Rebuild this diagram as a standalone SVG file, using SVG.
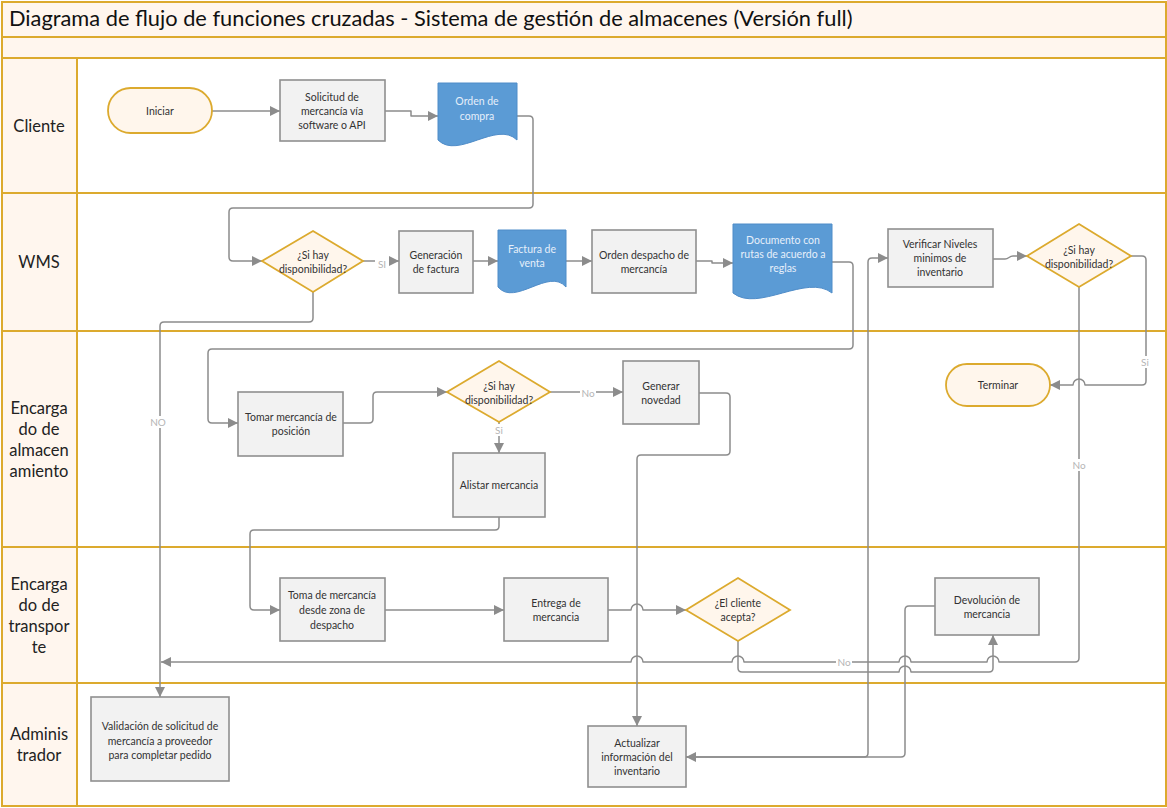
<svg xmlns="http://www.w3.org/2000/svg" width="1167" height="808" viewBox="0 0 1167 808">
<style>
.lane{fill:#fff;stroke:#dcaa2e;stroke-width:2}
.hdr{fill:#fff6ee;stroke:#dcaa2e;stroke-width:2}
.proc{fill:#f2f2f2;stroke:#8f8f8f;stroke-width:1.6}
.dec{fill:#fff6ec;stroke:#dcaa2e;stroke-width:1.8}
.term{fill:#fff6ec;stroke:#dcaa2e;stroke-width:1.8}
.doc{fill:#5b9bd5;stroke:#4f8cc8;stroke-width:1}
.t{font-family:Lato,"Open Sans",sans-serif;font-size:10.5px;fill:#333;text-anchor:middle}
.td{font-family:Lato,"Open Sans",sans-serif;font-size:10.5px;fill:#e6effa;text-anchor:middle}
.ln{font-family:Lato,"Open Sans",sans-serif;font-size:16.5px;fill:#222;text-anchor:middle}
.lbl{font-family:Lato,"Open Sans",sans-serif;font-size:10px;fill:#b5b5b5;text-anchor:middle}
.c{fill:none;stroke:#8c8c8c;stroke-width:1.5;stroke-linejoin:round}
.bg{fill:#fff}
</style>
<defs>
<marker id="arr" viewBox="0 0 10 10" refX="10" refY="5" markerWidth="11" markerHeight="10" markerUnits="userSpaceOnUse" orient="auto">
<path d="M0,0 L10,5 L0,10 z" fill="#8c8c8c"/>
</marker>
</defs>
<g id="frame">
<rect class="hdr" x="2" y="2" width="1164" height="35"/>
<rect class="hdr" x="2" y="37" width="1164" height="21"/>
<text x="9" y="26" font-family="Lato,'Open Sans',sans-serif" font-size="21.8" fill="#111">Diagrama de flujo de funciones cruzadas - Sistema de gestión de almacenes (Versión full)</text>
</g>
<g id="lane-cliente">
<rect class="lane" x="77" y="58" width="1089" height="135"/>
<rect class="hdr" x="2" y="58" width="75" height="135"/>
<text class="ln" x="39" y="132">Cliente</text>
</g>
<g id="lane-wms">
<rect class="lane" x="77" y="193" width="1089" height="138"/>
<rect class="hdr" x="2" y="193" width="75" height="138"/>
<text class="ln" x="39" y="268">WMS</text>
</g>
<g id="lane-almacen">
<rect class="lane" x="77" y="331" width="1089" height="216"/>
<rect class="hdr" x="2" y="331" width="75" height="216"/>
<text class="ln" x="39" y="414">Encarga</text>
<text class="ln" x="39" y="435">do de</text>
<text class="ln" x="39" y="456">almacen</text>
<text class="ln" x="39" y="477">amiento</text>
</g>
<g id="lane-transporte">
<rect class="lane" x="77" y="547" width="1089" height="136"/>
<rect class="hdr" x="2" y="547" width="75" height="136"/>
<text class="ln" x="39" y="590">Encarga</text>
<text class="ln" x="39" y="611">do de</text>
<text class="ln" x="39" y="632">transpor</text>
<text class="ln" x="39" y="653">te</text>
</g>
<g id="lane-admin">
<rect class="lane" x="77" y="683" width="1089" height="123"/>
<rect class="hdr" x="2" y="683" width="75" height="123"/>
<text class="ln" x="39" y="740">Adminis</text>
<text class="ln" x="39" y="761">trador</text>
</g>

<g id="connectors">
<path class="c" d="M212,111 H280" marker-end="url(#arr)"/>
<path class="c" d="M385,111 H411 V116 H438" marker-end="url(#arr)"/>
<path class="c" d="M517,116 H529 Q533,116 533,120 V204 Q533,208 529,208 H233 Q229,208 229,212 V257 Q229,261 233,261 H262" marker-end="url(#arr)"/>
<path class="c" d="M363,261 H399" marker-end="url(#arr)"/>
<path class="c" d="M473,261 H498" marker-end="url(#arr)"/>
<path class="c" d="M566,261 H592" marker-end="url(#arr)"/>
<path class="c" d="M696,261 H712 V263 H733" marker-end="url(#arr)"/>
<path class="c" d="M832,262 H849 Q853,262 853,266 V345 Q853,349 849,349 H212 Q208,349 208,353 V419 Q208,423 212,423 H238" marker-end="url(#arr)"/>
<path class="c" d="M313,292 V318 Q313,322 309,322 H164 Q160,322 160,326 V697" marker-end="url(#arr)"/>
<path class="c" d="M343,423 H369 Q373,423 373,419 V396 Q373,392 377,392 H447" marker-end="url(#arr)"/>
<path class="c" d="M550,392 H623" marker-end="url(#arr)"/>
<path class="c" d="M499,422 V453" marker-end="url(#arr)"/>
<path class="c" d="M699,393 H726 Q730,393 730,397 V451 Q730,455 726,455 H641 Q637,455 637,459 V726" marker-end="url(#arr)"/>
<path class="c" d="M499,517 V526 Q499,530 495,530 H254 Q250,530 250,534 V606 Q250,610 254,610 H280" marker-end="url(#arr)"/>
<path class="c" d="M385,610 H504" marker-end="url(#arr)"/>
<path class="c" d="M608,610 H631 a6,6 0 0 1 12,0 H686" marker-end="url(#arr)"/>
<path class="c" d="M738,641 V668 Q738,672 742,672 H899 a6,6 0 0 1 12,0 H989 Q993,672 993,668 V635" marker-end="url(#arr)"/>
<path class="c" d="M1079,287 V658 Q1079,662 1075,662 H999 a6,6 0 0 0 -12,0 H911 a6,6 0 0 0 -12,0 H744 a6,6 0 0 0 -12,0 H643 a6,6 0 0 0 -12,0 H161" marker-end="url(#arr)"/>
<path class="c" d="M935,606 H909 Q905,606 905,610 V753 Q905,757 901,757 H686" marker-end="url(#arr)"/>
<path class="c" d="M686,757 H864 Q868,757 868,753 V262 Q868,258 872,258 H888" marker-end="url(#arr)"/>
<path class="c" d="M993,259 H1005 C1009,259 1009,256 1013,256 H1027" marker-end="url(#arr)"/>
<path class="c" d="M1131,256 H1142 Q1146,256 1146,260 V381 Q1146,385 1142,385 H1085 a6,6 0 0 0 -12,0 H1050" marker-end="url(#arr)"/>
<rect class="bg" x="375" y="257" width="14" height="12"/>
<text class="lbl" x="382" y="268">SI</text>
<rect class="bg" x="150" y="416" width="17" height="12"/>
<text class="lbl" x="158" y="426">NO</text>
<rect class="bg" x="580" y="387" width="16" height="12"/>
<text class="lbl" x="588" y="397">No</text>
<rect class="bg" x="493" y="424" width="12" height="12"/>
<text class="lbl" x="499" y="434">Si</text>
<rect class="bg" x="1138" y="356" width="14" height="12"/>
<text class="lbl" x="1145" y="366">Si</text>
<rect class="bg" x="1071" y="459" width="16" height="12"/>
<text class="lbl" x="1079" y="469">No</text>
<rect class="bg" x="836" y="656" width="16" height="12"/>
<text class="lbl" x="844" y="666">No</text>
</g>

<g id="n-iniciar">
<rect class="term" x="108" y="88" width="104" height="45" rx="22.5"/>
<text class="t" x="160" y="115">Iniciar</text>
</g>
<g id="n-solicitud">
<rect class="proc" x="280" y="80" width="105" height="61"/>
<text class="t" x="332" y="101">Solicitud de</text>
<text class="t" x="332" y="115">mercancía vía</text>
<text class="t" x="332" y="129">software o API</text>
</g>
<g id="n-orden-compra">
<path class="doc" d="M438,83 H517 V140 C497,120 458,160 438,140 Z"/>
<text class="td" x="477" y="105">Orden de</text>
<text class="td" x="477" y="120">compra</text>
</g>
<g id="n-disp1">
<polygon class="dec" points="313,231 363,261 313,292 262,261"/>
<text class="t" x="313" y="259">¿Si hay</text>
<text class="t" x="313" y="273">disponibilidad?</text>
</g>
<g id="n-generacion">
<rect class="proc" x="399" y="231" width="74" height="62"/>
<text class="t" x="436" y="259">Generación</text>
<text class="t" x="436" y="273">de factura</text>
</g>
<g id="n-factura">
<path class="doc" d="M498,230 H566 V287 C549,267 515,307 498,287 Z"/>
<text class="td" x="532" y="253">Factura de</text>
<text class="td" x="532" y="267">venta</text>
</g>
<g id="n-orden-despacho">
<rect class="proc" x="592" y="230" width="104" height="63"/>
<text class="t" x="644" y="259">Orden despacho de</text>
<text class="t" x="644" y="273">mercancía</text>
</g>
<g id="n-documento">
<path class="doc" d="M733,224 H832 V293 C807,273 758,313 733,293 Z"/>
<text class="td" x="783" y="244">Documento con</text>
<text class="td" x="783" y="258">rutas de acuerdo a</text>
<text class="td" x="783" y="272">reglas</text>
</g>
<g id="n-verificar">
<rect class="proc" x="888" y="229" width="105" height="58"/>
<text class="t" x="940" y="248">Verificar Niveles</text>
<text class="t" x="940" y="262">minimos de</text>
<text class="t" x="940" y="276">inventario</text>
</g>
<g id="n-disp3">
<polygon class="dec" points="1079,224 1131,256 1079,287 1027,256"/>
<text class="t" x="1079" y="254">¿Si hay</text>
<text class="t" x="1079" y="268">disponibilidad?</text>
</g>
<g id="n-terminar">
<rect class="term" x="946" y="364" width="104" height="42" rx="21"/>
<text class="t" x="998" y="389">Terminar</text>
</g>
<g id="n-tomar">
<rect class="proc" x="238" y="392" width="105" height="64"/>
<text class="t" x="291" y="421">Tomar mercancía de</text>
<text class="t" x="291" y="435">posición</text>
</g>
<g id="n-disp2">
<polygon class="dec" points="499,361 550,392 499,422 447,392"/>
<text class="t" x="499" y="390">¿Si hay</text>
<text class="t" x="499" y="404">disponibilidad?</text>
</g>
<g id="n-novedad">
<rect class="proc" x="623" y="361" width="76" height="63"/>
<text class="t" x="661" y="390">Generar</text>
<text class="t" x="661" y="404">novedad</text>
</g>
<g id="n-alistar">
<rect class="proc" x="453" y="453" width="92" height="64"/>
<text class="t" x="499" y="489">Alistar mercancia</text>
</g>
<g id="n-toma-zona">
<rect class="proc" x="280" y="578" width="105" height="63"/>
<text class="t" x="332" y="599">Toma de mercancía</text>
<text class="t" x="332" y="614">desde zona de</text>
<text class="t" x="332" y="629">despacho</text>
</g>
<g id="n-entrega">
<rect class="proc" x="504" y="578" width="104" height="63"/>
<text class="t" x="556" y="607">Entrega de</text>
<text class="t" x="556" y="621">mercancia</text>
</g>
<g id="n-acepta">
<polygon class="dec" points="738,578 790,610 738,641 686,610"/>
<text class="t" x="738" y="607">¿El cliente</text>
<text class="t" x="738" y="621">acepta?</text>
</g>
<g id="n-devolucion">
<rect class="proc" x="935" y="578" width="104" height="57"/>
<text class="t" x="987" y="604">Devolución de</text>
<text class="t" x="987" y="618">mercancia</text>
</g>
<g id="n-validacion">
<rect class="proc" x="91" y="697" width="138" height="84"/>
<text class="t" x="160" y="730">Validación de solicitud de</text>
<text class="t" x="160" y="745">mercancía a proveedor</text>
<text class="t" x="160" y="759">para completar pedido</text>
</g>
<g id="n-actualizar">
<rect class="proc" x="588" y="726" width="98" height="61"/>
<text class="t" x="637" y="747">Actualizar</text>
<text class="t" x="637" y="761">información del</text>
<text class="t" x="637" y="775">inventario</text>
</g>
</svg>
